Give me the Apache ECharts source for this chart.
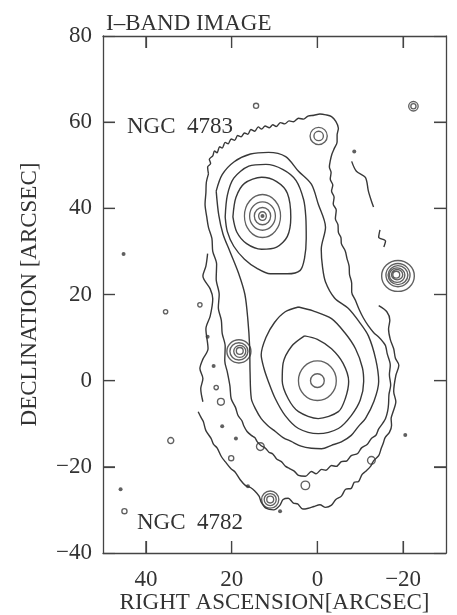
<!DOCTYPE html>
<html>
<head>
<meta charset="utf-8">
<title>I-BAND IMAGE</title>
<script src="https://cdn.jsdelivr.net/npm/echarts@6/dist/echarts.min.js"></script>
<style>
html, body { margin: 0; padding: 0; background: #fff; }
#chart { width: 457px; height: 615px; }
</style>
</head>
<body>
<div id="chart"></div>
<script>
// tick values (arcsec)
var xTicks = [40, 20, 0, -20];
var yTicks = [-40, -20, 0, 20, 40, 60, 80];

// isophotes, [RA offset, Dec offset] in arcsec
var outerBottom = [[27.8,-7.2],[27.2,-8.4],[26.6,-9.5],[26,-11.6],[24.8,-13.4],[24.2,-14.8],[23.4,-15.6],[22.4,-17.6],[21.5,-18.8],[20.2,-20.4],[19.2,-21.2],[18,-23],[16.8,-24.3],[15.6,-24.8],[14.6,-25.6],[13.6,-26.8],[13.1,-28.2],[12,-29.6],[10.2,-30],[8.8,-29],[8,-27.6],[6.8,-27.3],[5.6,-28.4],[4.6,-28.6],[3.4,-29.8],[2.1,-29.6],[0.8,-29.2],[-0.6,-28.8],[-1.9,-29.4],[-3.3,-28.9],[-4.3,-27.6],[-5.6,-26.8],[-6.6,-25.2],[-7.9,-25],[-8.6,-23.6],[-9.6,-23.4],[-10.4,-21.8],[-11.2,-21.1],[-12.4,-19.9],[-13.1,-18.6],[-14.3,-17.4],[-14.9,-15.7],[-15.4,-14.4],[-15.8,-13.2],[-16.8,-12],[-17.3,-10.4],[-17.2,-8.8],[-17.6,-7.4],[-18.3,-4.9],[-17.8,-2.5],[-18.3,1.2],[-19,3.6],[-18.2,5.2],[-17.8,7.4],[-17,9.6],[-16.6,12],[-16.9,14],[-16.2,16],[-14.3,17.4]];
var outerRight = [[-13.1,40.3],[-12.6,41.7],[-11.9,44],[-11.2,47.2],[-9.1,48.6],[-8,50.9]];
var outerRight2 = [[-15.5,31],[-15.9,32.4],[-14.3,33.3],[-14.6,35]];
var outerLeft = [[26.7,-4.9],[27.2,-1.9],[26.7,0.5],[27.4,2.8],[26.7,5],[25.5,7.4],[26,12],[25,15],[24.4,19],[25,21.3],[26.7,24.3],[26,26.6],[25.6,29.5]];
var levelB = [[25.4,48],[25.6,49.6],[24.9,50.4],[25.2,51.4],[24.4,52.2],[24,53.3],[23.4,52.9],[22.8,54.3],[22.2,54],[21.5,55.3],[20.8,55],[20.1,56.1],[19.3,55.8],[18.6,56.9],[17.8,56.6],[17,57.5],[16.2,57.2],[15.5,58.3],[14.6,57.9],[13.8,58.9],[13,58.4],[12.2,59.1],[11.2,58.7],[10.4,59.4],[9.6,59],[8.6,59.9],[7.6,59.6],[6.6,60.3],[5.6,60.1],[4.4,60.9],[3.2,60.7],[2.2,61.4],[0.8,61.6],[-0.6,61.9],[-2,61.7],[-3.3,61.3],[-4.3,60.2],[-4.9,58.6],[-4.6,57],[-4.6,55.4],[-3.9,53.8],[-3.4,52.6],[-3,51],[-2.8,49.6],[-3.2,48.3],[-3,46.8],[-3.6,45.4],[-3.3,44],[-3.9,42.6],[-3.7,41],[-4.4,39.6],[-4.2,37.6],[-4.8,36.2],[-4.9,34.4],[-5.5,33.2],[-5.6,31.8],[-6.5,30.1],[-6.9,28.4],[-7.4,26.6],[-7.5,24.6],[-8,22.6],[-8,20.6],[-8.9,18.6],[-9.8,16.4],[-10.7,14.6],[-11.9,12.7],[-13.1,11.2],[-14.4,10],[-15.3,9],[-15.9,8.1],[-16.3,6.2],[-17,3.6],[-16.8,1.4],[-17.1,-1],[-16.7,-3.2],[-16.6,-5.4],[-16.4,-7],[-15.9,-8.8],[-15.3,-9.8],[-14.3,-11.2],[-13.7,-12.6],[-12.6,-13.4],[-11.6,-14.8],[-10.3,-15.6],[-9.4,-16.9],[-7.9,-17.4],[-6.9,-18.6],[-5.6,-18.8],[-4.4,-19.9],[-3.3,-19.7],[-2,-20.8],[-1,-20.6],[0.3,-21.6],[1.4,-21.1],[2.8,-22.2],[4.4,-22],[5.4,-21],[6.5,-20.4],[7.4,-19.9],[8.4,-18.8],[9.5,-18.2],[10.4,-17],[11.3,-16.6],[12.1,-15.7],[13.1,-15.1],[14,-14.2],[14.6,-13.2],[15.4,-12.7],[16.4,-11.8],[17.2,-10.4],[17.6,-9.3],[18.5,-8.1],[19.1,-6.2],[20.1,-4.2],[20.4,-1.2],[21,2],[21.6,4.6],[21.5,8],[22.2,11],[22.4,14],[23.1,17],[22.9,20],[23.6,23.6],[23.5,27],[24.4,30],[24.6,33],[25.4,35.6],[25.8,38],[26.2,41],[26,43.6],[25.9,46],[25.4,48]];
var levelC = [[23.6,44],[22.2,47.8],[19.4,50.8],[15.6,52.6],[11.4,53],[7.4,52],[4.4,48.6],[1.4,45.6],[-0.2,41],[-1.9,35.6],[-0.9,30.5],[-1.2,26.4],[-1.9,22.9],[-4,19.2],[-7.3,16.7],[-9.8,13.6],[-11.9,10.4],[-13.6,5],[-14.3,-0.2],[-13.2,-4.8],[-11.2,-8.8],[-9.6,-10.6],[-7.9,-12.7],[-5.6,-14.2],[-3.3,-15],[-1,-15.8],[1.4,-15.7],[3.8,-15.2],[6.1,-14.1],[8,-13.2],[9.8,-11.8],[11.6,-10.4],[13.1,-8.8],[14.4,-6.6],[15.4,-4.2],[15.7,2],[15.8,8],[16.2,14],[16.9,20],[18.4,25],[20.4,30],[22,34],[23,38.4],[23.6,44]];
var upperD = [[21.5,38],[21,43],[19.5,47],[16,49.8],[12,50.2],[8,49],[5,46.5],[3.2,42],[2.7,38],[2.6,33],[3,28.4],[4,25.6],[7,24.8],[11,24.8],[14,26],[17,28.2],[19.5,31.2],[21,34.6],[21.5,38]];
var upperE = [[19.7,38],[19,42.5],[17,45.8],[13,47.2],[9.5,46.2],[7,43.5],[6.2,38],[7,33.5],[9.5,31],[13,30.5],[16.5,31.8],[18.8,34.5],[19.7,38]];
var lowerD = [[4.4,17.1],[1,16.2],[-3.3,14.4],[-6.5,11],[-8.9,7.4],[-10.5,3],[-10.8,-0.2],[-10,-4.5],[-7.9,-8.1],[-4.9,-11.1],[-0.2,-12.3],[4.4,-11.1],[7.5,-8.1],[9.8,-4.2],[11.5,0],[12.5,3],[13.1,6],[12,10],[10,13.5],[7.5,16],[4.4,17.1]];
var lowerE = [[3,10.4],[0,9.6],[-3.3,7.4],[-6,4],[-7.3,-0.2],[-6.5,-4.2],[-4.9,-7.2],[-0.2,-8.8],[4.4,-7.2],[6.8,-4.2],[8.2,0],[8,4],[6,8],[3,10.4]];

// galaxy cores and stars: [x, y, radius x, radius y] in arcsec
var rings = [
  [12.8,38.2,4.2,5.0],[12.8,38.2,3.0,3.3],[12.8,38.2,1.9,2.0],[12.8,38.2,0.9,1.0],
  [0,0,4.4,4.6],[0,0,1.6,1.6],
  [-18.8,24.3,3.8,3.6],[-18.8,24.5,2.8,2.7],[-18.8,24.5,2.3,2.2],[-18.6,24.5,1.8,1.7],[-18.6,24.6,1.3,1.2],[-18.4,24.6,0.8,0.8],
  [18.3,6.8,2.8,2.7],[18.3,6.8,2.1,2.0],[18.1,6.8,1.4,1.4],[18.1,6.9,0.8,0.8],
  [11,-27.6,2.0,2.0],[11,-27.6,1.4,1.4],[11,-27.6,0.8,0.8],
  [-0.3,56.8,2.0,2.0],[-0.3,56.8,1.1,1.1],
  [-22.4,63.7,1.1,1.1],[-22.4,63.7,0.6,0.6],
  [14.3,63.8,0.6,0.6],[35.4,16,0.5,0.5],[34.2,-13.9,0.7,0.7],[13.3,-15.3,0.9,0.9],
  [2.8,-24.3,1.0,1.0],[-12.6,-18.5,0.9,0.9],[45,-30.3,0.6,0.6],[20.1,-18,0.6,0.6],[22.5,-4.9,0.8,0.8],
  [23.6,-1.6,0.5,0.5],[27.4,17.6,0.5,0.5]
];
var dots = [[12.8,38.2],[45.2,29.4],[45.9,-25.2],[19,-13.4],[16.2,-24.5],[8.7,-30.3],[-8.6,53.2],[-20.5,-12.6],[24.2,3.4],[25.6,10.2],[22.2,-10.6]];

// inward ticks on all four sides: [side, value], side 0 bottom, 1 top, 2 left, 3 right
var tickMarks = [];
xTicks.forEach(function (v) { tickMarks.push([0, v], [1, v]); });
yTicks.slice(1, -1).forEach(function (v) { tickMarks.push([2, v], [3, v]); });

var LINE = '#383838';
var FONT = 'Liberation Serif';
var PX = 4.3; // pixels per arcsec on this grid
var TICK = 12;

var chart = echarts.init(document.getElementById('chart'));

function iso(pts) {
  return {
    type: 'line', data: pts, symbol: 'none', smooth: 0.3,
    lineStyle: { color: LINE, width: 1.4 }, silent: true, z: 3
  };
}
function minus(v) { return String(v).replace('-', '\u2212'); }

var label = { fontFamily: FONT, fontSize: 23, color: '#333' };
var tick = { show: true, inside: true, length: TICK, lineStyle: { color: '#444', width: 1.2 } };
var line = { show: true, onZero: false, lineStyle: { color: '#444', width: 1.3 } };

var option = {
  animation: false,
  title: {
    text: 'I\u2013BAND IMAGE', left: 106, top: 12, padding: 0,
    textStyle: { fontFamily: FONT, fontSize: 23, fontWeight: 'normal', color: '#333' }
  },
  grid: { left: 103, right: 11, top: 36, bottom: 62, outerBoundsMode: 'none', containLabel: false },
  xAxis: [{
    type: 'value', min: -30, max: 50, inverse: true, position: 'bottom',
    axisLine: line,
    axisTick: Object.assign({ customValues: xTicks }, tick),
    axisLabel: Object.assign({ customValues: xTicks, margin: 15, formatter: minus }, label),
    splitLine: { show: false },
    name: 'RIGHT ASCENSION[ARCSEC]', nameLocation: 'middle', nameGap: 38,
    nameMoveOverlap: false,
    nameTextStyle: label
  }, {
    type: 'value', min: -30, max: 50, inverse: true, position: 'top',
    axisLine: line,
    axisTick: Object.assign({ customValues: xTicks }, tick),
    axisLabel: { show: false }, splitLine: { show: false }
  }],
  yAxis: [{
    type: 'value', min: -40, max: 80, interval: 20, position: 'left',
    axisLine: line, axisTick: tick,
    axisLabel: Object.assign({ margin: 11, formatter: minus }, label),
    splitLine: { show: false },
    name: 'DECLINATION [ARCSEC]', nameLocation: 'middle', nameGap: 62, nameRotate: 90,
    nameMoveOverlap: false,
    nameTextStyle: label
  }, {
    type: 'value', min: -40, max: 80, interval: 20, position: 'right',
    axisLine: line, axisTick: tick,
    axisLabel: { show: false }, splitLine: { show: false }
  }],
  graphic: [
    { type: 'text', left: 127, top: 115, style: { text: 'NGC  4783', font: '23px "Liberation Serif"', fill: '#333' } },
    { type: 'text', left: 137, top: 511, style: { text: 'NGC  4782', font: '23px "Liberation Serif"', fill: '#333' } }
  ],
  series: [
    iso(outerBottom), iso(outerRight), iso(outerRight2), iso(outerLeft),
    iso(levelB), iso(levelC),
    iso(upperD), iso(upperE), iso(lowerD), iso(lowerE),
    {
      type: 'scatter', data: rings, symbol: 'circle', silent: true, z: 4,
      symbolSize: function (d) { return [d[2] * 2 * PX, d[3] * 2 * PX]; },
      itemStyle: { color: 'rgba(0,0,0,0)', borderColor: LINE, borderWidth: 1.35 }
    },
    {
      type: 'scatter', data: dots, symbol: 'circle', symbolSize: 4, silent: true, z: 4,
      itemStyle: { color: LINE }
    },
    {
      type: 'custom', data: tickMarks, silent: true, z: 5, clip: false,
      renderItem: function (params, api) {
        var side = api.value(0), v = api.value(1), p, q;
        if (side === 0) { p = api.coord([v, -40]); q = [p[0], p[1] - TICK]; }
        else if (side === 1) { p = api.coord([v, 80]); q = [p[0], p[1] + TICK]; }
        else if (side === 2) { p = api.coord([50, v]); q = [p[0] + TICK, p[1]]; }
        else { p = api.coord([-30, v]); q = [p[0] - TICK, p[1]]; }
        return {
          type: 'line',
          shape: { x1: p[0], y1: p[1], x2: q[0], y2: q[1] },
          style: { stroke: '#444', lineWidth: 1.2 }
        };
      }
    }
  ]
};
chart.setOption(option);
</script>
</body>
</html>
